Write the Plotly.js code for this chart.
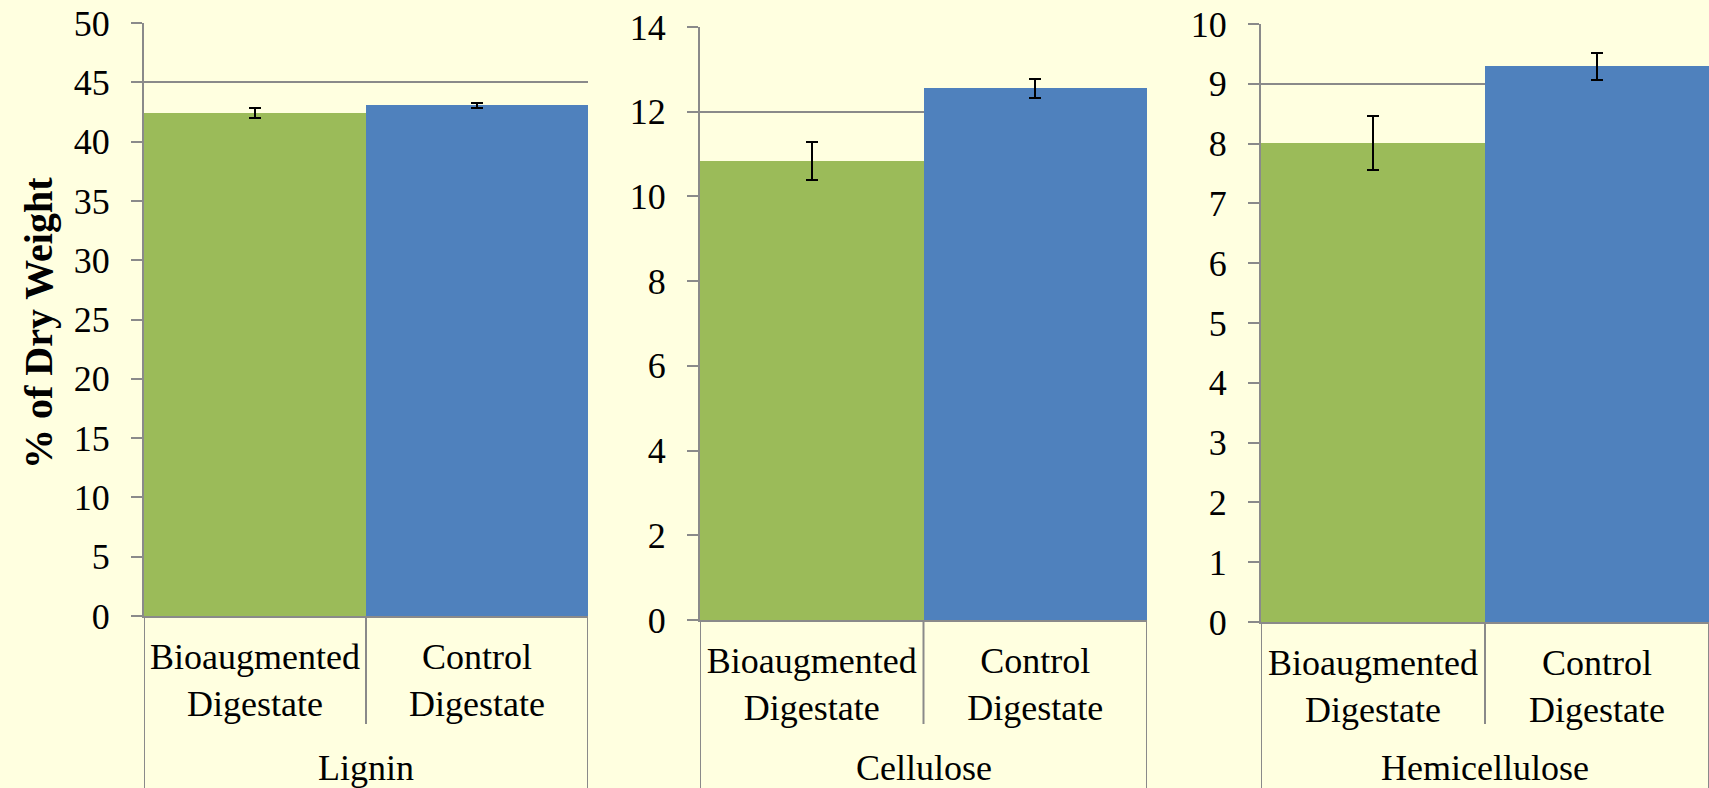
<!DOCTYPE html>
<html>
<head>
<meta charset="utf-8">
<script src="https://cdn.plot.ly/plotly-3.0.1.min.js"></script>
<style>
  html, body { margin: 0; padding: 0; background: #FFFFE0; }
  #chart { width: 1709px; height: 788px; }
</style>
</head>
<body>
<div id="chart"></div>
<script>
// ---- Data ----
const categories = ["Bioaugmented<br>Digestate", "Control<br>Digestate"];
const groups = ["Lignin", "Cellulose", "Hemicellulose"];
const bioaugmentedValues = [42.4, 10.84, 8.01];
const bioaugmentedErrors = [0.45, 0.45, 0.45];
const controlValues = [43.05, 12.55, 9.29];
const controlErrors = [0.22, 0.22, 0.23];
const yMaxima = [50, 14, 10];
const yTickSteps = [5, 2, 1];
const yAxisTitle = "% of Dry Weight";

// ---- Styles ----
const W = 1709, H = 788;
const GREEN = "#9BBB59", BLUE = "#4F81BD";
const GRID = "#8A8A8A";
const FONT = "Liberation Serif";
const BG = "#FFFFE0";

// panel pixel boxes [left, right, top, bottom]
const boxes = [
  [144, 588, 23, 616],
  [700, 1147, 27, 620],
  [1261, 1709, 24, 622]
];

const traces = [];
const layout = {
  width: W, height: H,
  margin: {l: 0, r: 0, t: 0, b: 0},
  paper_bgcolor: BG, plot_bgcolor: BG,
  bargap: 0,
  showlegend: false,
  font: {family: FONT, size: 36, color: "#000"},
  shapes: [],
  annotations: []
};

groups.forEach((g, i) => {
  const sx = i === 0 ? "" : String(i + 1);
  const [l, r, t, b] = boxes[i];
  traces.push({
    type: "bar",
    x: categories,
    y: [bioaugmentedValues[i], controlValues[i]],
    xaxis: "x" + sx, yaxis: "y" + sx,
    marker: {color: [GREEN, BLUE], line: {width: 0}},
    error_y: {
      type: "data", array: [bioaugmentedErrors[i], controlErrors[i]],
      visible: true, color: "#000", thickness: 2, width: 6
    },
    hoverinfo: "none"
  });
  const xd = [l / W, r / W];
  const yd = [1 - b / H, 1 - t / H];
  layout["xaxis" + sx] = {
    domain: xd, anchor: "y" + sx, type: "category",
    range: [-0.5, 1.5],
    showline: true, linecolor: GRID, linewidth: 2,
    showgrid: false, zeroline: false, ticks: "",
    tickfont: {family: FONT, size: 36, color: "#000"},
    ticklabelstandoff: 8,
    fixedrange: true
  };
  layout["yaxis" + sx] = {
    domain: yd, anchor: "x" + sx,
    range: [0, yMaxima[i]], dtick: yTickSteps[i], tick0: 0,
    showline: true, linecolor: GRID, linewidth: 2,
    showgrid: true, gridcolor: GRID, gridwidth: 2,
    zeroline: false,
    ticks: "outside", ticklen: 11, tickwidth: 2, tickcolor: GRID,
    ticklabelstandoff: 14,
    tickfont: {family: FONT, size: 36, color: "#000"},
    fixedrange: true
  };
  // category box dividers below the axis
  [[-0.5, 0], [0.5, 1 - 724 / H], [1.5, 0]].forEach(([xv, yEnd]) => {
    layout.shapes.push({
      type: "line", xref: "x" + sx, yref: "paper",
      x0: xv, x1: xv, y0: yd[0], y1: yEnd,
      line: {color: GRID, width: 2}
    });
  });
  layout.annotations.push({
    text: g, xref: "x" + sx, yref: "paper",
    x: 0.5, y: 1 - 768 / H, xanchor: "center", yanchor: "middle",
    showarrow: false, font: {family: FONT, size: 36, color: "#000"}
  });
});

layout.annotations.push({
  text: "<b>" + yAxisTitle + "</b>", textangle: -90,
  xref: "paper", yref: "paper",
  x: 38 / W, y: 1 - 323 / H, xanchor: "center", yanchor: "middle",
  showarrow: false, font: {family: FONT, size: 40, color: "#000"}
});

Plotly.newPlot("chart", traces, layout, {staticPlot: true});
</script>
</body>
</html>
